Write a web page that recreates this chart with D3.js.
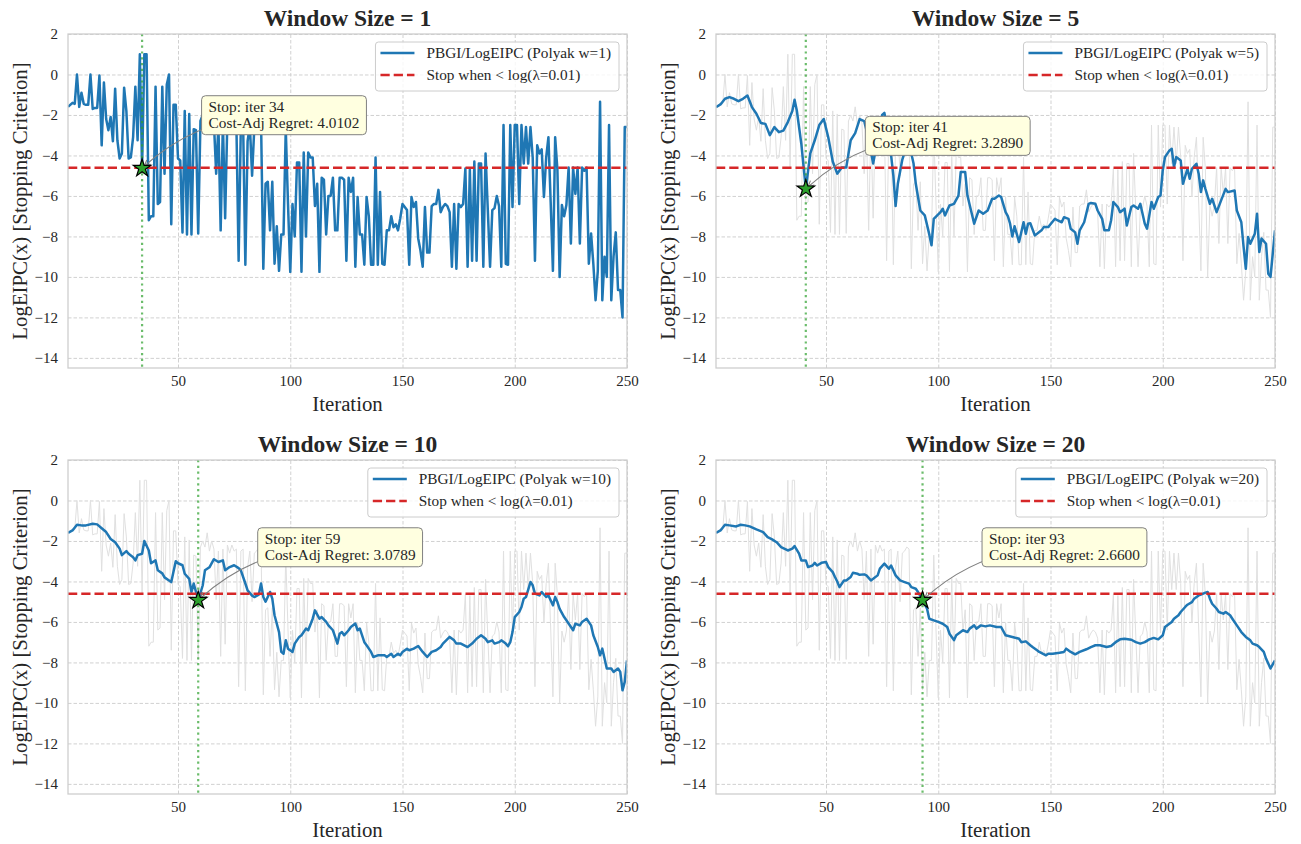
<!DOCTYPE html>
<html><head><meta charset="utf-8">
<script src="https://cdn.jsdelivr.net/npm/d3@7"></script>
<style>body{margin:0;background:#fff} svg{display:block}</style>
</head><body><svg id="c" width="1301" height="844"></svg>
<script>
// ---------------- DATA ----------------
const iterations = d3.range(1, 251);
const rawLogEIPC = [
 -1.6,-1.5,-1.4,-1.45,0.0,-1.6,-0.9,-1.45,-1.5,-1.5,
 0.0,-1.7,-1.65,-1.65,-0.05,-3.5,-0.4,-2.2,-2.75,-2.1,
 -3.3,-0.7,-3.25,-4.15,-3.9,-0.65,-1.8,-4.15,-4.1,-3.1,
 -0.6,-3.25,1.0,-4.63,1.0,1.0,-7.2,-7.0,-7.0,-0.6,
 -6.4,-6.3,-0.6,-4.9,-0.5,0.0,-7.4,-1.5,-1.5,-4.15,
 -4.25,-7.8,-1.8,-7.9,-1.95,-7.9,-2.7,-2.75,-7.85,-2.3,
 -2.0,-2.3,-1.6,-2.5,-2.0,-2.4,-4.9,-2.5,-7.7,-2.4,
 -7.1,-2.2,-2.6,-2.2,-2.5,-2.4,-9.2,-2.5,-2.4,-9.4,
 -3.3,-2.5,-5.0,-2.6,-2.5,-2.3,-2.4,-9.6,-5.4,-5.3,
 -7.7,-5.3,-9.35,-7.5,-9.7,-7.9,-7.9,-2.7,-6.4,-9.75,
 -6.4,-8.0,-4.35,-4.35,-9.75,-3.85,-8.0,-3.85,-4.1,-4.1,
 -6.5,-5.4,-9.75,-5.1,-5.2,-7.9,-6.0,-6.0,-5.1,-7.7,
 -7.7,-5.1,-5.1,-5.2,-9.2,-5.1,-5.8,-5.1,-9.5,-6.05,
 -7.9,-7.9,-9.4,-6.05,-7.0,-9.4,-9.4,-4.1,-9.4,-5.8,
 -9.35,-9.4,-7.7,-7.7,-7.0,-7.55,-7.4,-7.7,-7.1,-6.4,
 -6.55,-6.7,-9.4,-6.05,-6.55,-6.3,-8.1,-8.7,-9.5,-6.55,
 -8.8,-8.8,-6.5,-6.4,-6.4,-5.7,-6.8,-6.55,-6.4,-6.5,
 -6.8,-9.5,-6.4,-9.6,-6.4,-6.55,-6.4,-4.65,-9.5,-4.7,
 -9.2,-4.3,-9.2,-4.4,-4.4,-9.5,-3.9,-6.7,-9.5,-6.7,
 -6.6,-6.0,-6.5,-9.5,-2.5,-9.35,-9.4,-2.5,-6.55,-2.5,
 -2.5,-6.4,-2.5,-4.4,-2.6,-4.4,-2.6,-4.1,-9.2,-3.5,
 -3.9,-3.7,-6.05,-4.1,-3.1,-6.3,-9.7,-3.1,-4.7,-10.0,
 -6.45,-7.0,-6.45,-4.6,-8.35,-4.6,-5.9,-4.6,-8.35,-4.6,
 -4.75,-4.6,-9.35,-7.85,-9.35,-11.15,-9.7,-1.35,-11.15,-9.0,
 -10.0,-2.5,-11.15,-9.0,-7.8,-10.65,-10.65,-12.0,-2.6,-2.6
];
// Polyak-averaged curves: [iteration, value]
const polyakW5 = [
 [1,-1.61],[3,-1.48],[5,-1.2],[7,-1.12],[9,-1.2],[11,-1.32],[13,-1.2],[15,-1.04],[17,-1.61],[19,-1.94],
 [21,-2.4],[23,-2.44],[25,-3.0],[27,-2.6],[29,-2.85],[31,-2.77],[33,-2.35],[35,-1.8],[36,-1.25],[37,-1.78],
 [39,-3.42],[41,-5.65],[43,-3.9],[45,-3.25],[47,-2.5],[49,-2.2],[51,-3.1],[53,-4.3],[55,-4.9],[57,-4.6],
 [59,-4.6],[61,-3.25],[63,-2.9],[65,-2.2],[67,-2.3],[69,-3.2],[71,-4.4],[73,-3.2],[75,-2.0],[76,-1.9],
 [78,-3.0],[80,-5.0],[81,-6.5],[82,-5.4],[84,-4.2],[86,-3.5],[88,-3.9],[89,-4.4],[90,-5.4],[92,-6.72],
 [94,-6.96],[96,-7.9],[97,-8.44],[98,-7.13],[101,-6.8],[102,-6.63],[103,-6.96],[105,-6.47],[107,-6.39],[109,-5.98],
 [110,-4.82],[112,-4.82],[113,-5.98],[116,-7.37],[118,-6.72],[120,-6.88],[122,-6.72],[124,-6.14],[125,-6.14],[127,-5.98],
 [128,-6.05],[130,-6.8],[131,-7.0],[132,-7.37],[133,-8.0],[134,-7.5],[136,-8.28],[138,-7.3],[139,-7.87],[140,-7.37],
 [141,-7.35],[143,-7.95],[144,-7.87],[146,-7.7],[147,-7.54],[149,-7.54],[150,-7.4],[152,-7.13],[153,-7.2],[155,-7.3],
 [156,-7.05],[158,-7.13],[159,-7.62],[161,-7.8],[162,-8.36],[163,-7.7],[165,-7.3],[167,-6.39],[168,-6.35],[170,-6.39],
 [171,-6.72],[173,-7.13],[174,-7.7],[176,-7.7],[177,-7.2],[178,-6.3],[180,-6.55],[181,-6.8],[183,-6.63],[184,-7.46],
 [186,-6.55],[187,-6.47],[189,-6.63],[190,-6.39],[192,-7.37],[193,-7.62],[195,-6.3],[196,-6.63],[198,-6.05],[199,-5.98],
 [200,-4.74],[201,-4.08],[203,-3.75],[204,-3.67],[205,-4.58],[206,-4.08],[208,-4.25],[209,-5.4],[211,-4.66],[212,-5.15],
 [213,-4.66],[215,-4.41],[216,-4.9],[217,-5.81],[218,-5.23],[219,-5.65],[221,-6.39],[222,-6.14],[224,-6.8],[226,-6.22],
 [228,-5.65],[229,-5.81],[232,-5.73],[233,-6.72],[235,-7.3],[236,-8.5],[237,-9.6],[238,-8.03],[239,-8.36],[241,-7.87],
 [242,-6.88],[243,-8.77],[244,-8.1],[246,-8.36],[247,-9.84],[248,-10.0],[250,-7.7]
];
const polyakW10 = [
 [1,-1.6],[3,-1.48],[5,-1.2],[7,-1.23],[9,-1.23],[12,-1.15],[14,-1.18],[16,-1.37],[18,-1.56],[20,-1.9],
 [22,-2.06],[24,-2.38],[25,-2.7],[27,-2.5],[28,-2.63],[30,-2.8],[31,-2.96],[32,-2.7],[34,-2.63],[35,-2.0],
 [37,-2.47],[38,-3.1],[40,-2.96],[41,-3.45],[43,-3.6],[44,-3.8],[46,-3.95],[47,-4.03],[49,-3.0],[50,-3.1],
 [52,-3.2],[53,-3.62],[55,-3.87],[56,-4.52],[57,-4.1],[59,-4.93],[61,-4.2],[62,-3.45],[64,-3.3],[66,-2.9],
 [68,-3.04],[70,-2.96],[71,-3.45],[73,-3.29],[75,-3.2],[77,-3.34],[78,-3.45],[80,-4.1],[81,-4.44],[83,-4.7],
 [84,-4.77],[86,-4.65],[87,-4.1],[88,-4.77],[89,-5.0],[91,-4.52],[92,-4.85],[93,-5.67],[95,-6.5],[96,-7.48],
 [97,-7.57],[98,-6.9],[99,-7.32],[101,-7.48],[102,-7.07],[104,-6.74],[105,-6.66],[107,-6.33],[108,-6.41],[110,-5.84],
 [111,-5.43],[113,-5.84],[114,-5.76],[116,-6.0],[117,-6.17],[119,-6.41],[120,-6.74],[121,-7.07],[122,-6.58],[123,-6.5],
 [124,-6.66],[126,-6.41],[127,-6.25],[129,-6.08],[130,-6.41],[131,-6.33],[133,-7.0],[134,-7.15],[136,-7.48],[137,-7.73],
 [139,-7.65],[142,-7.65],[143,-7.73],[145,-7.57],[146,-7.73],[148,-7.57],[149,-7.65],[150,-7.48],[152,-7.32],[153,-7.4],
 [155,-7.32],[157,-7.19],[159,-7.48],[161,-7.73],[163,-7.48],[165,-7.4],[167,-7.24],[168,-7.07],[171,-6.74],[173,-6.91],
 [174,-7.07],[176,-7.07],[179,-7.24],[181,-7.07],[183,-6.83],[185,-6.66],[187,-6.83],[188,-7.0],[190,-6.91],[191,-7.07],
 [193,-7.0],[194,-6.91],[196,-7.07],[197,-7.2],[198,-7.0],[199,-6.5],[200,-5.76],[202,-5.51],[203,-5.26],[204,-4.85],
 [205,-4.77],[207,-4.03],[208,-4.19],[209,-4.6],[211,-4.69],[212,-4.52],[214,-4.77],[215,-4.69],[217,-5.18],[218,-4.77],
 [219,-5.02],[220,-5.35],[222,-5.76],[223,-5.92],[226,-6.41],[227,-6.09],[229,-6.17],[230,-6.0],[232,-5.84],[234,-6.17],
 [235,-6.66],[237,-7.24],[238,-7.65],[239,-7.32],[240,-7.81],[241,-8.3],[243,-8.3],[244,-8.47],[246,-8.3],[247,-8.47],
 [248,-9.38],[249,-8.96],[250,-7.9]
];
const polyakW20 = [
 [1,-1.6],[3,-1.48],[5,-1.2],[7,-1.23],[10,-1.28],[12,-1.2],[14,-1.23],[16,-1.28],[19,-1.43],[22,-1.56],
 [24,-1.81],[26,-1.92],[28,-2.06],[30,-2.3],[33,-2.47],[35,-2.38],[36,-2.25],[38,-2.63],[39,-2.96],[41,-2.96],
 [42,-3.29],[44,-3.21],[45,-3.08],[46,-3.21],[48,-3.08],[50,-3.04],[51,-3.29],[53,-3.54],[54,-3.78],[55,-4.0],
 [56,-4.28],[58,-3.95],[59,-3.95],[61,-3.78],[62,-3.57],[64,-3.62],[65,-3.67],[67,-3.65],[68,-3.7],[70,-3.95],
 [71,-3.87],[73,-3.7],[74,-3.37],[76,-3.12],[78,-3.37],[79,-3.21],[81,-3.7],[83,-3.95],[85,-4.03],[87,-4.11],
 [88,-4.28],[90,-4.36],[91,-4.52],[93,-4.93],[95,-5.35],[96,-5.84],[98,-5.92],[100,-6.0],[102,-6.09],[104,-6.25],
 [105,-6.58],[107,-6.9],[108,-6.66],[111,-6.41],[113,-6.5],[114,-6.33],[116,-6.17],[117,-6.33],[119,-6.17],[121,-6.22],
 [123,-6.17],[126,-6.25],[128,-6.25],[130,-6.66],[133,-6.74],[136,-6.83],[137,-7.0],[139,-6.96],[141,-7.15],[142,-7.24],
 [144,-7.4],[145,-7.48],[148,-7.65],[149,-7.57],[151,-7.57],[154,-7.52],[156,-7.48],[157,-7.32],[159,-7.48],[161,-7.6],
 [163,-7.48],[166,-7.35],[168,-7.24],[170,-7.15],[172,-7.15],[175,-7.24],[177,-7.19],[179,-7.0],[181,-6.86],[183,-6.83],
 [186,-6.88],[188,-7.0],[190,-7.07],[192,-7.0],[194,-6.86],[196,-6.79],[198,-6.86],[200,-6.66],[201,-6.25],[204,-6.0],
 [205,-5.84],[207,-5.67],[208,-5.51],[210,-5.26],[211,-5.15],[213,-5.02],[214,-4.85],[216,-4.69],[217,-4.65],[219,-4.55],
 [220,-4.52],[221,-4.85],[222,-5.1],[224,-5.35],[225,-5.51],[227,-5.59],[228,-5.51],[230,-5.67],[231,-5.84],[233,-6.17],
 [235,-6.5],[237,-6.74],[239,-6.91],[240,-7.07],[242,-7.15],[243,-7.24],[245,-7.48],[246,-7.81],[248,-8.3],[249,-8.1],
 [250,-7.9]
];
const windowSizes = [1, 5, 10, 20];
const stopIters = [34, 41, 59, 93];
const stopValues = [-4.63, -5.65, -4.93, -4.93];
const regretLabels = ["4.0102", "3.2890", "3.0789", "2.6600"];
const lambda = 0.01;
const xTicks = [50, 100, 150, 200, 250];
const yTicks = [-14, -12, -10, -8, -6, -4, -2, 0, 2];

// ---------------- DRAW ----------------
const svg = d3.select('#c');
const FONT = '"Liberation Serif","Times New Roman",Times,serif';
const TXT = '#262626';
const threshold = Math.log(lambda);
const rawPts = iterations.map((t, i) => [t, rawLogEIPC[i]]);
const smoothSeries = [rawPts, polyakW5, polyakW10, polyakW20];
const PW = 559, PH = 334;
const panels = [{left: 68, top: 34}, {left: 716, top: 34}, {left: 68, top: 460}, {left: 716, top: 460}];

panels.forEach((p, k) => {
  const w = windowSizes[k];
  const x = d3.scaleLinear().domain([1, 250]).range([p.left, p.left + PW]);
  const y = d3.scaleLinear().domain([-14.5, 2]).range([p.top + PH, p.top]);
  const g = svg.append('g');
  const clipId = 'clip' + k;
  g.append('clipPath').attr('id', clipId).append('rect')
    .attr('x', p.left).attr('y', p.top).attr('width', PW).attr('height', PH);

  // grid
  const gx = g.append('g').attr('transform', `translate(0,${p.top + PH})`)
    .call(d3.axisBottom(x).tickValues(xTicks).tickSize(-PH).tickFormat(''));
  gx.select('.domain').remove();
  gx.selectAll('line').attr('stroke', '#cccccc').attr('stroke-width', 0.9).attr('stroke-dasharray', '3.5,2');
  const gy = g.append('g').attr('transform', `translate(${p.left},0)`)
    .call(d3.axisLeft(y).tickValues(yTicks).tickSize(-PW).tickFormat(''));
  gy.select('.domain').remove();
  gy.selectAll('line').attr('stroke', '#cccccc').attr('stroke-width', 0.9).attr('stroke-dasharray', '3.5,2');

  const line = d3.line().x(d => x(d[0])).y(d => y(d[1]));
  const plot = g.append('g').attr('clip-path', `url(#${clipId})`);
  if (w > 1) {
    plot.append('path').attr('d', line(rawPts)).attr('fill', 'none')
      .attr('stroke', '#e0e0e0').attr('stroke-width', 1);
  }
  plot.append('path').attr('d', line(smoothSeries[k])).attr('fill', 'none')
    .attr('stroke', '#1f77b4').attr('stroke-width', 2.5).attr('stroke-linejoin', 'round');

  // threshold line
  plot.append('line').attr('x1', p.left).attr('x2', p.left + PW)
    .attr('y1', y(threshold)).attr('y2', y(threshold))
    .attr('stroke', '#d62728').attr('stroke-width', 2.5).attr('stroke-dasharray', '9.25,4');

  // stop vertical line
  const sx = x(stopIters[k]), sy = y(stopValues[k]);
  plot.append('line').attr('x1', sx).attr('x2', sx).attr('y1', p.top).attr('y2', p.top + PH)
    .attr('stroke', '#2ca02c').attr('stroke-opacity', 0.7).attr('stroke-width', 2.2).attr('stroke-dasharray', '2.2,3.6');

  // frame
  g.append('rect').attr('x', p.left).attr('y', p.top).attr('width', PW).attr('height', PH)
    .attr('fill', 'none').attr('stroke', '#cccccc').attr('stroke-width', 1.25);

  // tick labels
  const ax = g.append('g').attr('transform', `translate(0,${p.top + PH})`)
    .call(d3.axisBottom(x).tickValues(xTicks).tickSize(0).tickPadding(7.5));
  ax.select('.domain').remove();
  ax.attr('font-family', FONT).attr('font-size', 15);
  ax.selectAll('text').attr('fill', TXT);
  const ay = g.append('g').attr('transform', `translate(${p.left},0)`)
    .call(d3.axisLeft(y).tickValues(yTicks).tickSize(0).tickPadding(10));
  ay.select('.domain').remove();
  ay.attr('font-family', FONT).attr('font-size', 15);
  ay.selectAll('text').attr('fill', TXT);

  // titles / labels
  g.append('text').attr('x', p.left + PW / 2).attr('y', p.top - 7.6).attr('text-anchor', 'middle')
    .attr('font-family', FONT).attr('font-size', 23.5).attr('font-weight', 'bold').attr('fill', TXT)
    .text(`Window Size = ${w}`);
  g.append('text').attr('x', p.left + PW / 2).attr('y', p.top + PH + 43).attr('text-anchor', 'middle')
    .attr('font-family', FONT).attr('font-size', 20.8).attr('fill', TXT).text('Iteration');
  g.append('text').attr('transform', `translate(${p.left - 41.5},${p.top + PH / 2}) rotate(-90)`)
    .attr('text-anchor', 'middle').attr('font-family', FONT).attr('font-size', 20.8).attr('fill', TXT)
    .text('LogEIPC(x) [Stopping Criterion]');

  // annotation
  const ann = g.append('g');
  const bx = sx + 59.5, by = sy - 72.5;
  const t1 = ann.append('text').attr('x', bx + 7).attr('y', by + 16).attr('font-family', FONT)
    .attr('font-size', 15.3).attr('fill', TXT).text(`Stop: iter ${stopIters[k]}`);
  const t2 = ann.append('text').attr('x', bx + 7).attr('y', by + 32).attr('font-family', FONT)
    .attr('font-size', 15.3).attr('fill', TXT).text(`Cost-Adj Regret: ${regretLabels[k]}`);
  const tw = Math.max(t1.node().getComputedTextLength(), t2.node().getComputedTextLength());
  const bw = tw + 14, bh = 39;
  const cx = bx + bw / 2, cy = by + bh / 2;
  const f = 0.2, mx = (cx + sx) / 2, my = (cy + sy) / 2;
  const qx = mx + f * (-(sy - cy)), qy = my + f * (sx - cx);
  let ux = sx - qx, uy = sy - qy; const ul = Math.hypot(ux, uy); ux /= ul; uy /= ul;
  const ex = sx - ux * 3, ey = sy - uy * 3;
  const hl = 6, hw = 3;
  ann.insert('path', 'text').attr('d', `M${cx},${cy}Q${qx},${qy} ${ex},${ey}`)
    .attr('fill', 'none').attr('stroke', 'gray').attr('stroke-width', 1.1);
  ann.insert('path', 'text').attr('d',
      `M${ex - ux * hl - uy * hw},${ey - uy * hl + ux * hw}L${ex},${ey}L${ex - ux * hl + uy * hw},${ey - uy * hl - ux * hw}`)
    .attr('fill', 'none').attr('stroke', 'gray').attr('stroke-width', 1.1);
  ann.insert('path', 'text').attr('d', d3.symbol(d3.symbolStar, 95)())
    .attr('transform', `translate(${sx},${sy})`).attr('fill', '#2ca02c').attr('stroke', '#000').attr('stroke-width', 1.2);
  ann.insert('rect', 'text').attr('x', bx).attr('y', by).attr('width', bw).attr('height', bh)
    .attr('rx', 4).attr('fill', '#ffffe0').attr('stroke', 'gray').attr('stroke-width', 1);

  // legend
  const lg = g.append('g');
  const l1 = lg.append('text').attr('font-family', FONT).attr('font-size', 15.3).attr('fill', TXT)
    .text(`PBGI/LogEIPC (Polyak w=${w})`);
  const l2 = lg.append('text').attr('font-family', FONT).attr('font-size', 15.3).attr('fill', TXT)
    .text(`Stop when < log(λ=${lambda})`);
  const lw = Math.max(l1.node().getComputedTextLength(), l2.node().getComputedTextLength());
  const lbw = 51 + lw + 8, lbh = 49;
  const lx = p.left + PW - 8 - lbw, ly = p.top + 8;
  lg.insert('rect', 'text').attr('x', lx).attr('y', ly).attr('width', lbw).attr('height', lbh).attr('rx', 3)
    .attr('fill', '#fff').attr('fill-opacity', 0.8).attr('stroke', '#cccccc').attr('stroke-width', 1);
  l1.attr('x', lx + 51).attr('y', ly + 16);
  l2.attr('x', lx + 51).attr('y', ly + 38);
  lg.append('line').attr('x1', lx + 5).attr('x2', lx + 39).attr('y1', ly + 11).attr('y2', ly + 11)
    .attr('stroke', '#1f77b4').attr('stroke-width', 2.5);
  lg.append('line').attr('x1', lx + 5).attr('x2', lx + 39).attr('y1', ly + 33).attr('y2', ly + 33)
    .attr('stroke', '#d62728').attr('stroke-width', 2.5).attr('stroke-dasharray', '9.25,4');
});
</script>
</body></html>
